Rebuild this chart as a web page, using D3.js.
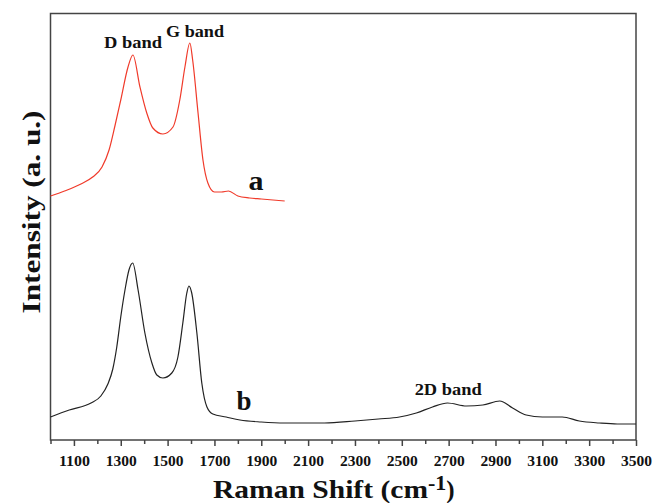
<!DOCTYPE html>
<html>
<head>
<meta charset="utf-8">
<script src="https://cdn.jsdelivr.net/npm/d3@7"></script>
<style>
  body { margin: 0; background: #fff; }
  svg text { font-family: "Liberation Serif", "Times New Roman", serif; font-weight: bold; }
</style>
</head>
<body>
<div id="chart"></div>
<script>
// Raman shift (cm-1) and intensity (a.u.)
const shiftA = [1000, 1060, 1130, 1180, 1220, 1250, 1275, 1300, 1331, 1352, 1382, 1411, 1437, 1480, 1523, 1552, 1574, 1595, 1607, 1630, 1651, 1672, 1700, 1730, 1760, 1800, 1850, 1900, 1950, 2000];
const intensityA = [244, 249, 256, 263, 273, 290, 314, 340, 373, 385, 353, 327, 312, 306, 313, 340, 373, 397, 380, 327, 280, 257, 248, 248, 249, 244, 242, 241, 240, 239];

const shiftB = [1000, 1080, 1173, 1215, 1245, 1266, 1283, 1300, 1318, 1335, 1351, 1374, 1403, 1433, 1454, 1480, 1518, 1544, 1565, 1582, 1591, 1603, 1625, 1646, 1668, 1693, 1750, 1809, 1900, 2000, 2170, 2300, 2400, 2490, 2562, 2631, 2695, 2776, 2846, 2918, 2973, 3031, 3100, 3185, 3258, 3343, 3420, 3500];
const intensityB = [23, 30, 37, 44, 56, 71, 93, 123, 150, 170, 177, 150, 107, 77, 65, 62, 67, 83, 117, 147, 154, 147, 107, 57, 33, 26, 23, 20, 18, 17, 17, 19, 21, 23, 27, 33, 37, 34, 35, 39, 32, 25, 23, 23, 19, 17, 16, 16];

const xTicks = [1000, 1100, 1200, 1300, 1400, 1500, 1600, 1700, 1800, 1900, 2000, 2100, 2200, 2300, 2400, 2500, 2600, 2700, 2800, 2900, 3000, 3100, 3200, 3300, 3400, 3500];

const width = 655, height = 503;
const margin = { top: 13.5, right: 19, bottom: 63, left: 50.5 };
const innerW = width - margin.left - margin.right;
const innerH = height - margin.top - margin.bottom;

const svg = d3.select("#chart").append("svg")
    .attr("width", width)
    .attr("height", height);

const g = svg.append("g")
    .attr("transform", `translate(${margin.left}, ${margin.top})`);

const x = d3.scaleLinear().domain([1000, 3500]).range([0, innerW]);
const y = d3.scaleLinear().domain([0, 426.5]).range([innerH, 0]);

// frame
g.append("rect")
    .attr("width", innerW)
    .attr("height", innerH)
    .attr("fill", "none")
    .attr("stroke", "#444")
    .attr("stroke-width", 1.5);

// x axis: labels on odd hundreds, longer ticks there
const xAxis = g.append("g")
    .attr("transform", `translate(0, ${innerH})`)
    .call(d3.axisBottom(x)
        .tickValues(xTicks)
        .tickSize(0)
        .tickPadding(15)
        .tickFormat(d => (d / 100) % 2 === 1 ? d : ""));
xAxis.select(".domain").remove();
xAxis.selectAll(".tick line")
    .attr("y2", d => (d / 100) % 2 === 1 ? 6 : 4)
    .attr("stroke", "#444")
    .attr("stroke-width", 1.5);
xAxis.selectAll("text")
    .attr("fill", "#111")
    .attr("textLength", 31)
    .attr("lengthAdjust", "spacingAndGlyphs")
    .style("font-size", "15px");

// spectra
const line = d3.line()
    .x(d => x(d[0]))
    .y(d => y(d[1]))
    .curve(d3.curveMonotoneX);

g.append("path")
    .datum(d3.zip(shiftA, intensityA))
    .attr("fill", "none")
    .attr("stroke", "#f03a2a")
    .attr("stroke-width", 1.2)
    .attr("d", line);

g.append("path")
    .datum(d3.zip(shiftB, intensityB))
    .attr("fill", "none")
    .attr("stroke", "#222")
    .attr("stroke-width", 1.2)
    .attr("d", line);

// annotations
const notes = [
    { text: "D band", sx: 1352, iy: 392, size: 17, len: 58 },
    { text: "G band", sx: 1617, iy: 403, size: 17, len: 58 },
    { text: "a", sx: 1877, iy: 250, size: 28, len: 15 },
    { text: "b", sx: 1826, iy: 30, size: 28, len: 15 },
    { text: "2D band", sx: 2698, iy: 45, size: 17, len: 67 }
];
g.selectAll(".note")
    .data(notes)
    .enter()
    .append("text")
    .attr("x", d => x(d.sx))
    .attr("y", d => y(d.iy))
    .attr("text-anchor", "middle")
    .attr("fill", "#111")
    .attr("textLength", d => d.len)
    .attr("lengthAdjust", "spacingAndGlyphs")
    .style("font-size", d => d.size + "px")
    .text(d => d.text);

// axis titles
const xTitle = svg.append("text")
    .attr("x", 213)
    .attr("y", 498)
    .attr("fill", "#111")
    .style("font-size", "25px");
xTitle.append("tspan")
    .attr("textLength", 215)
    .attr("lengthAdjust", "spacingAndGlyphs")
    .text("Raman Shift (cm");
xTitle.append("tspan").attr("dy", -8).style("font-size", "22px").text("-1");
xTitle.append("tspan").attr("dy", 8).text(")");

svg.append("text")
    .attr("transform", "translate(40, 212) rotate(-90)")
    .attr("text-anchor", "middle")
    .attr("fill", "#111")
    .attr("textLength", 203)
    .attr("lengthAdjust", "spacingAndGlyphs")
    .style("font-size", "26px")
    .text("Intensity (a. u.)");
</script>
</body>
</html>
